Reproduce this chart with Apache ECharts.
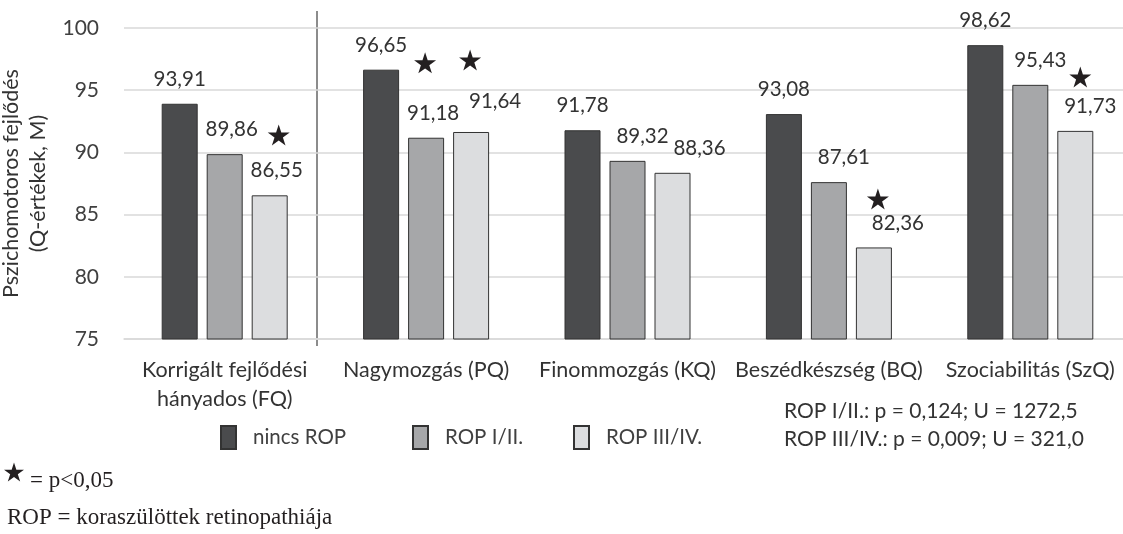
<!DOCTYPE html>
<html><head><meta charset="utf-8">
<script src="https://cdn.jsdelivr.net/npm/echarts@6/dist/echarts.min.js"></script>
<style>html,body{margin:0;padding:0;background:#fff}#c{width:1123px;height:534px}</style>
</head><body><div id="c"></div>
<script>
const categories = ['Korrigált fejlődési\nhányados (FQ)', 'Nagymozgás (PQ)', 'Finommozgás (KQ)', 'Beszédkészség (BQ)', 'Szociabilitás (SzQ)'];
const seriesNames = ['nincs ROP', 'ROP I/II.', 'ROP III/IV.'];
const noRop = [93.91, 96.65, 91.78, 93.08, 98.62];
const rop12 = [89.86, 91.18, 89.32, 87.61, 95.43];
const rop34 = [86.55, 91.64, 88.36, 82.36, 91.73];
// significance stars: [category index, value level of star, series index]
const stars = [[0, 91.4, 2], [1, 97.2, 1], [1, 97.43, 2], [3, 86.25, 2], [4, 96.06, 2]];
const yTicks = [75, 80, 85, 90, 95, 100];

// layout only: horizontal label shifts (px) per series/category
const labelShift = [[0, 0, 0, 0, 0], [7, 7, 15, 15, 10], [7, 24, 27, 24, 15]];
const labelLift = [[0, 0, 0, 0, 0], [0, 0, 0, 0, 0], [0, -6, 0, 0, 0]];
const starShift = [9, -1, -1, 4, 5];
const legendLeft = [220, 412, 573];

const colors = ['#4a4b4d', '#a6a7a9', '#dcdddf'];
const FONT = 'Lato';
const fmt = v => v.toFixed(2).replace('.', ',');
const STAR = 'path://M50 0 L61.23 34.55 L97.55 34.55 L68.17 55.9 L79.39 90.45 L50 69.1 L20.61 90.45 L31.83 55.9 L2.45 34.55 L38.77 34.55 Z';
const starPts = (cx, cy, r) => {
  const pts = [];
  for (let k = 0; k < 10; k++) {
    const a = -Math.PI / 2 + k * Math.PI / 5;
    const rr = k % 2 ? r * 0.382 : r;
    pts.push([cx + rr * Math.cos(a), cy + rr * Math.sin(a)]);
  }
  return pts;
};

const chart = echarts.init(document.getElementById('c'), null, {renderer: 'canvas'});
const vals = [noRop, rop12, rop34];
const barSeries = vals.map((arr, si) => ({
  name: seriesNames[si], type: 'bar', barWidth: 36, barGap: '25%',
  itemStyle: {color: colors[si], borderColor: '#333', borderWidth: 1},
  data: arr.map((v, ci) => ({
    value: v,
    label: {offset: [labelShift[si][ci], labelLift[si][ci]]}
  })),
  label: {show: true, position: 'top', distance: 14, fontFamily: FONT, fontSize: 20.5, color: '#333',
    formatter: p => fmt(p.value)}
}));
const starSeries = {
  type: 'scatter', symbol: STAR, symbolSize: [22, 21], silent: true,
  itemStyle: {color: '#231f20', opacity: 1},
  data: stars.map((s, i) => ({value: [s[0], s[1]], symbolOffset: [(s[2] - 1) * 45 + starShift[i], 0]}))
};

chart.setOption({
  animation: false,
  textStyle: {fontFamily: FONT},
  grid: {left: 124, width: 1007, top: 28, bottom: 195, containLabel: false, outerBoundsMode: 'none'},
  legend: seriesNames.map((n, i) => ({
    data: [n], left: legendLeft[i], top: 425, padding: 0, itemWidth: 15, itemHeight: 23, icon: 'rect',
    textStyle: {fontFamily: FONT, fontSize: 20.5, color: '#404040', padding: [0, 0, 0, 12]}
  })),
  xAxis: {
    type: 'category', data: categories,
    axisLine: {lineStyle: {color: '#d9d9d9', width: 1.5}},
    axisTick: {show: false},
    axisLabel: {fontFamily: FONT, fontSize: 21.5, color: '#333', margin: 17, lineHeight: 29, interval: 0}
  },
  yAxis: {
    type: 'value', min: yTicks[0], max: yTicks[yTicks.length - 1], interval: 5,
    name: 'Pszichomotoros fejlődés\n(Q-értékek, M)', nameLocation: 'middle', nameGap: 46,
    nameTextStyle: {fontFamily: FONT, fontSize: 21.5, color: '#333', lineHeight: 27},
    axisLine: {show: false}, axisTick: {show: false},
    axisLabel: {fontFamily: FONT, fontSize: 21, color: '#404040', margin: 25},
    splitLine: {lineStyle: {color: '#d9d9d9', width: 1.5}}
  },
  series: [...barSeries, starSeries],
  graphic: [
    {type: 'line', shape: {x1: 317, y1: 11, x2: 317, y2: 346}, style: {stroke: '#8c8c8c', lineWidth: 2}},
    {type: 'text', x: 784, y: 411, style: {text: 'ROP I/II.: p = 0,124; U = 1272,5', fontFamily: FONT, fontSize: 21, fill: '#333', verticalAlign: 'middle'}},
    {type: 'text', x: 784, y: 439, style: {text: 'ROP III/IV.: p = 0,009; U = 321,0', fontFamily: FONT, fontSize: 21, fill: '#333', verticalAlign: 'middle'}},
    {type: 'polygon', shape: {points: starPts(14, 473, 10.5)}, style: {fill: '#231f20'}},
    {type: 'text', x: 30, y: 481, style: {text: '= p<0,05', fontFamily: 'Liberation Serif', fontSize: 23, fill: '#231f20', verticalAlign: 'middle'}},
    {type: 'text', x: 7, y: 518, style: {text: 'ROP = koraszülöttek retinopathiája', fontFamily: 'Liberation Serif', fontSize: 23, fill: '#231f20', verticalAlign: 'middle'}}
  ]
});
</script></body></html>
